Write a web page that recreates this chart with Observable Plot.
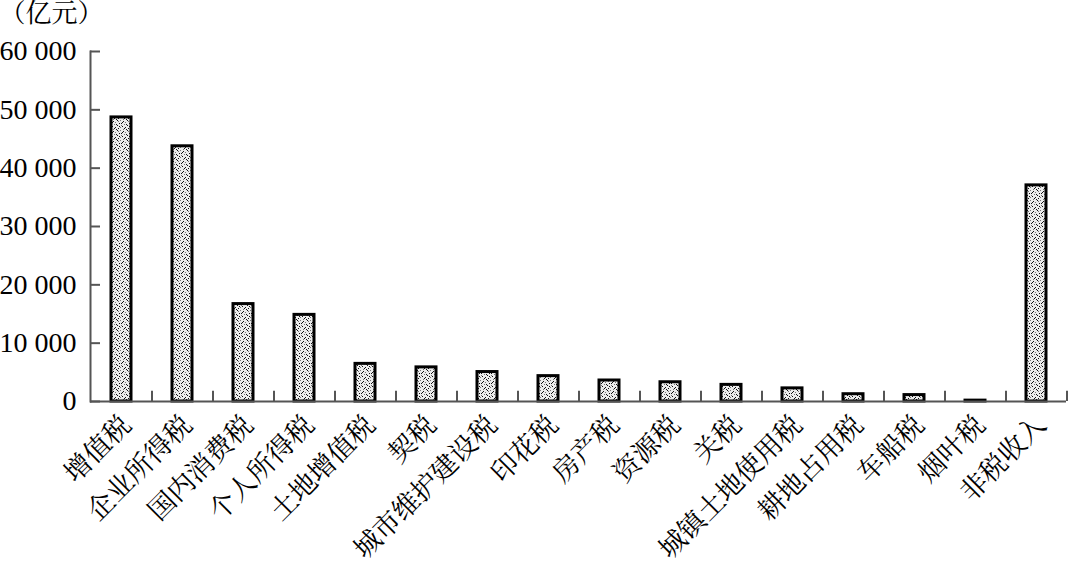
<!DOCTYPE html>
<html>
<head>
<meta charset="utf-8">
<script src="https://cdn.jsdelivr.net/npm/d3@7"></script>
<script src="https://cdn.jsdelivr.net/npm/@observablehq/plot@0.6"></script>
<style>
  html, body { margin: 0; padding: 0; background: #fff; }
  #chart svg { display: block; }
</style>
</head>
<body>
<div id="chart"></div>
<script>
const categories = ["增值税","企业所得税","国内消费税","个人所得税","土地增值税","契税","城市维护建设税","印花税","房产税","资源税","关税","城镇土地使用税","耕地占用税","车船税","烟叶税","非税收入"];
const values = [48700, 43750, 16700, 14850, 6450, 5850, 5050, 4350, 3600, 3300, 2850, 2250, 1250, 1100, 150, 37050];
const yTicks = [0, 10000, 20000, 30000, 40000, 50000, 60000];
const unitLabel = "（亿元）";

const data = categories.map((c, i) => ({name: c, value: values[i]}));
const fmt = d => d3.format(",")(d).replace(/,/g, " ");

const W = 1069, H = 565, mL = 90, mR = 3, mT = 51, mB = 164;
const step = (W - mL - mR) / categories.length;
const serif = "'Liberation Serif', 'Times New Roman', 'Noto Serif CJK SC', 'Noto Sans CJK SC', serif";
const pad = 0.68;

const svg = Plot.plot({
  width: W, height: H,
  marginLeft: mL, marginRight: mR, marginTop: mT, marginBottom: mB,
  style: {fontFamily: serif, fontSize: "28px", color: "#000", background: "#fff"},
  x: {domain: categories, paddingInner: pad, paddingOuter: pad / 2, label: null},
  y: {domain: [0, 60000], label: null},
  marks: [
    Plot.barY(data, {x: "name", y: "value", fill: "url(#dots)", stroke: "#000", strokeWidth: 3}),
    Plot.ruleY([0], {stroke: "#555", strokeWidth: 2}),
    Plot.frame({anchor: "left", stroke: "#555", strokeWidth: 2}),
    Plot.ruleX(categories, {x: d => d, y1: 0, y2: 1750, dx: step / 2, stroke: "#555", strokeWidth: 2}),
    Plot.axisY(yTicks, {tickSize: -10, tickPadding: 24, tickFormat: fmt, stroke: "#555", strokeWidth: 2, fontSize: 28, fill: "#000"}),
    Plot.axisX({tickRotate: -45, tickSize: 0, tickPadding: 19, dx: 5, fontSize: 27, fill: "#000", fontFamily: "'Noto Serif CJK SC', 'Noto Sans CJK SC', serif"}),
    Plot.text([unitLabel], {frameAnchor: "top-left", dx: -mL - 1, dy: -mT + 3, textAnchor: "start", lineAnchor: "top", fontSize: 26, fill: "#000"})
  ]
});

const defs = d3.select(svg).insert("defs", ":first-child");
const T = 10;
const pat = defs.append("pattern").attr("id", "dots").attr("patternUnits", "userSpaceOnUse")
  .attr("width", T).attr("height", T);
pat.append("rect").attr("width", T).attr("height", T).attr("fill", "#ececec");
const dotPos = [[0,0],[3,1],[7,0],[5,2],[9,3],[1,3],[4,4],[7,5],[2,6],[0,7],[5,7],[8,8],[3,9],[6,9],[9,6],[1,5],[6,4],[2,2],[8,1],[4,8]];
dotPos.forEach(([x, y], i) => pat.append("rect").attr("x", x).attr("y", y)
  .attr("width", 1).attr("height", 1).attr("fill", i % 3 ? "#111" : "#777"));

document.getElementById("chart").appendChild(svg);
</script>
</body>
</html>
